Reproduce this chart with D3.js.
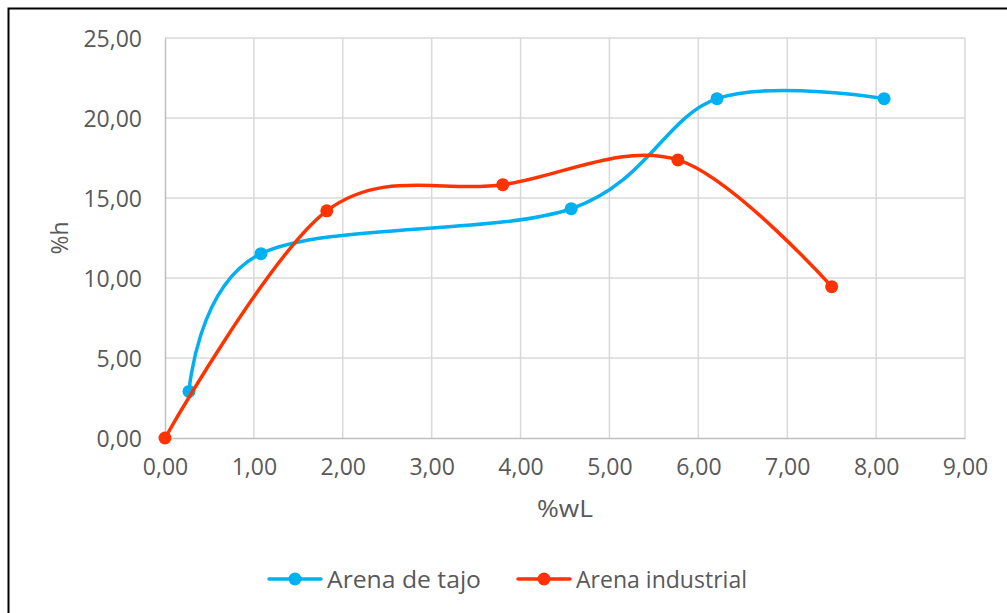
<!DOCTYPE html>
<html>
<head>
<meta charset="utf-8">
<script src="https://cdn.jsdelivr.net/npm/d3@7"></script>
<style>
  html, body { margin: 0; padding: 0; background: #fff; }
  svg { display: block; font-family: "Open Sans", sans-serif; }
</style>
</head>
<body>
<svg id="chart" width="1007" height="613"></svg>
<script>
// Moisture content (%h) vs. water (%wL) for two sands
const tajoX = [0.27, 1.08, 4.57, 6.21, 8.09];
const tajoY = [2.91, 11.52, 14.33, 21.21, 21.21];
const industrialX = [0.00, 1.82, 3.80, 5.77, 7.50];
const industrialY = [0.00, 14.20, 15.83, 17.38, 9.46];
const seriesNames = ["Arena de tajo", "Arena industrial"];
const seriesColors = ["#00B0F0", "#FF3300"];
const xTicks = [0, 1, 2, 3, 4, 5, 6, 7, 8, 9];
const yTicks = [0, 5, 10, 15, 20, 25];
const xTitle = "%wL";
const yTitle = "%h";

const svg = d3.select("#chart");
const W = 1007, H = 613;
const plot = { left: 165, right: 965, top: 38, bottom: 438 };

const fmt = v => d3.format(".2f")(v).replace(".", ",");

const x = d3.scaleLinear().domain([0, 9]).range([plot.left, plot.right]);
const y = d3.scaleLinear().domain([0, 25]).range([plot.bottom, plot.top]);

// outer frame
svg.append("rect")
  .attr("x", 8.5).attr("y", 8.5)
  .attr("width", W + 20).attr("height", H + 20)
  .attr("fill", "#fff").attr("stroke", "#000").attr("stroke-width", 2);

// gridlines
const grid = svg.append("g");
grid.selectAll("line.v").data(xTicks.slice(1)).join("line")
  .attr("x1", d => x(d)).attr("x2", d => x(d))
  .attr("y1", plot.top).attr("y2", plot.bottom)
  .attr("stroke", "#D9D9D9").attr("stroke-width", 1.5);
grid.selectAll("line.h").data(yTicks.slice(1)).join("line")
  .attr("x1", plot.left).attr("x2", plot.right)
  .attr("y1", d => y(d)).attr("y2", d => y(d))
  .attr("stroke", "#D9D9D9").attr("stroke-width", 1.5);

// axes
const xAxis = svg.append("g")
  .attr("transform", `translate(0,${plot.bottom})`)
  .call(d3.axisBottom(x).tickValues(xTicks).tickFormat(fmt).tickSize(0).tickPadding(21));
const yAxis = svg.append("g")
  .attr("transform", `translate(${plot.left},0)`)
  .call(d3.axisLeft(y).tickValues(yTicks).tickFormat(fmt).tickSize(0).tickPadding(23));
[xAxis, yAxis].forEach(g => {
  g.select(".domain").attr("stroke", "#BFBFBF").attr("stroke-width", 1.5);
  g.selectAll("text").attr("fill", "#595959").attr("font-size", 23)
    .attr("font-family", "'Open Sans', sans-serif");
});
yAxis.selectAll("text").attr("dy", "0.35em");

// axis titles
svg.append("text")
  .attr("x", (plot.left + plot.right) / 2).attr("y", 508)
  .attr("text-anchor", "middle").attr("dominant-baseline", "central")
  .attr("fill", "#595959").attr("font-size", 23)
  .attr("textLength", 56).attr("lengthAdjust", "spacingAndGlyphs").text(xTitle);
svg.append("text")
  .attr("transform", `translate(59,${(plot.top + plot.bottom) / 2}) rotate(-90)`)
  .attr("text-anchor", "middle").attr("dominant-baseline", "central")
  .attr("fill", "#595959").attr("font-size", 23)
  .attr("textLength", 33).attr("lengthAdjust", "spacingAndGlyphs").text(yTitle);

// series
const series = [
  { name: seriesNames[0], color: seriesColors[0], pts: tajoX.map((v, i) => [v, tajoY[i]]) },
  { name: seriesNames[1], color: seriesColors[1], pts: industrialX.map((v, i) => [v, industrialY[i]]) }
];
const line = d3.line().x(d => x(d[0])).y(d => y(d[1])).curve(d3.curveCardinal.tension(0));

series.forEach(s => {
  svg.append("path").datum(s.pts)
    .attr("d", line).attr("fill", "none")
    .attr("stroke", s.color).attr("stroke-width", 3.5)
    .attr("stroke-linecap", "round").attr("stroke-linejoin", "round");
  svg.selectAll(null).data(s.pts).join("circle")
    .attr("cx", d => x(d[0])).attr("cy", d => y(d[1])).attr("r", 6.5)
    .attr("fill", s.color);
});

// legend
const legendItems = [
  { x0: 269, tx: 327, len: 154 },
  { x0: 518, tx: 576, len: 171 }
];
series.forEach((s, i) => {
  const g = svg.append("g").attr("transform", `translate(0,579)`);
  const L = legendItems[i];
  g.append("line").attr("x1", L.x0).attr("x2", L.x0 + 52).attr("y1", 0).attr("y2", 0)
    .attr("stroke", s.color).attr("stroke-width", 3.5).attr("stroke-linecap", "round");
  g.append("circle").attr("cx", L.x0 + 26).attr("cy", 0).attr("r", 6.5).attr("fill", s.color);
  g.append("text").attr("x", L.tx).attr("y", 0).attr("dominant-baseline", "central")
    .attr("fill", "#595959").attr("font-size", 23)
    .attr("textLength", L.len).attr("lengthAdjust", "spacingAndGlyphs").text(s.name);
});
</script>
</body>
</html>
